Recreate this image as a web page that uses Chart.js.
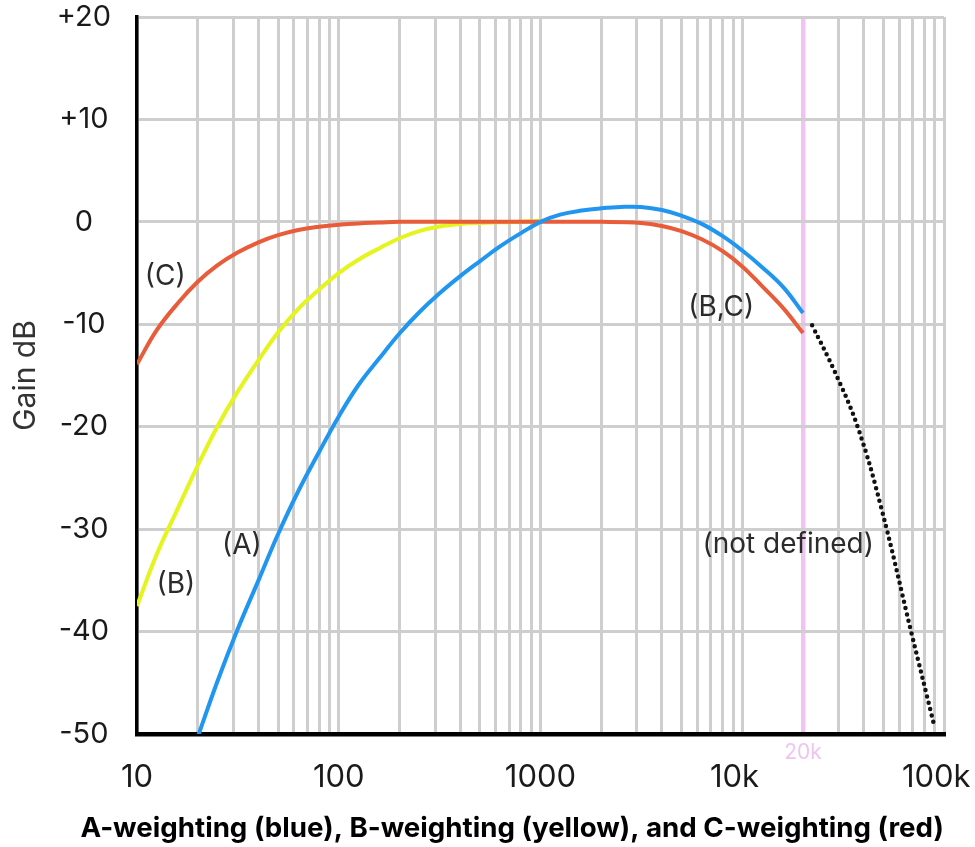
<!DOCTYPE html>
<html>
<head>
<meta charset="utf-8">
<script src="https://cdn.jsdelivr.net/npm/chart.js@4/dist/chart.umd.min.js"></script>
<style>
  html, body { margin: 0; padding: 0; background: #fff; }
  #chart { display: block; }
</style>
</head>
<body>
<canvas id="chart" width="975" height="847"></canvas>
<script>
// ===== DATA =====
// A-weighting (blue)
const aFreq = [20, 25, 31.5, 40, 50, 63, 80, 100, 125, 160, 200, 250, 315, 400, 500, 630, 800, 1000,
  1250, 1600, 2000, 2500, 3150, 4000, 5000, 6300, 8000, 10000, 12500, 16000, 20000];
const aGain = [-50.3, -44.9, -39.8, -35, -30.5, -26.3, -22.45, -19, -15.95, -13.25, -10.9, -8.85, -7, -5.3, -3.85, -2.4, -1.1, 0,
  0.7, 1.1, 1.32, 1.45, 1.45, 1.15, 0.6, -0.2, -1.4, -2.8, -4.4, -6.4, -8.9];

// B-weighting (yellow)
const bFreq = [10, 12.5, 16, 20, 25, 31.5, 40, 50, 63, 80, 100, 125, 160, 200, 250, 315, 400, 500, 630, 800, 1000];
const bGain = [-37.5, -32.5, -27.9, -23.8, -20, -16.6, -13.5, -10.8, -8.5, -6.6, -5, -3.7, -2.55, -1.6, -0.9, -0.45, -0.2, -0.1, -0.05, 0, 0.1];

// C-weighting (red)
const cFreq = [10, 12.5, 16, 20, 25, 31.5, 40, 50, 63, 80, 100, 125, 160, 200, 500, 1000, 2000, 3150, 4000, 5000,
  6300, 8000, 10000, 12500, 16000, 20000];
const cGain = [-13.9, -10.6, -7.9, -5.85, -4.25, -3.0, -2.0, -1.3, -0.8, -0.48, -0.28, -0.15, -0.07, 0, 0, 0, 0, -0.1, -0.4, -0.9,
  -1.7, -2.85, -4.35, -6.25, -8.45, -10.85];

// roll-off beyond 20k (dotted, "not defined")
const dFreq = [22200, 28700, 37300, 48700, 69100, 89500];
const dGain = [-10.1, -14.6, -20, -27.8, -40.2, -49.2];

const xTickValues = [10, 100, 1000, 10000, 100000];
const xTickLabels = ['10', '100', '1000', '10k\u2002', '100k\u2002'];
const yTickValues = [20, 10, 0, -10, -20, -30, -40, -50];
const yTickLabels = ['+20', '+10', '0', '-10', '-20', '-30', '-40', '-50'];

// curve labels, in data coordinates [freq, dB]
const notes = [
  { text: '(C)', at: [13.8, -5.3] },
  { text: '(B)', at: [15.6, -35.4] },
  { text: '(A)', at: [33.1, -31.6] },
  { text: '(B,C)', at: [7870, -8.4] },
  { text: '(not defined)', at: [16900, -31.5] },
];

// ===== HELPERS =====
const pts = (xs, ys) => xs.map((x, i) => ({ x, y: ys[i] }));

// gridlines 1..9 per decade
const xGrid = [];
xTickValues.slice(0, -1).forEach(d => { for (let m = 1; m < 10; m++) xGrid.push(d * m); });
xGrid.push(100000);

const GRID = '#cecece';
const PINK = '#f0c4f0';
const FONT = 'Inter, "Liberation Sans", Arial, sans-serif';
const TITLE_SIZE = 27.7;
const TITLE_BOX = TITLE_SIZE * 1.2 + 2; // line height + bottom padding

const notesPlugin = {
  id: 'notes',
  afterDatasetsDraw(chart) {
    const { ctx, scales: { x, y }, chartArea } = chart;
    ctx.save();
    ctx.textAlign = 'center';
    ctx.textBaseline = 'middle';
    ctx.fillStyle = '#2b2b2b';
    ctx.font = '28px ' + FONT;
    notes.forEach(n => {
      ctx.fillText(n.text, x.getPixelForValue(n.at[0]), y.getPixelForValue(n.at[1]));
    });
    // 20k marker label
    ctx.fillStyle = PINK;
    ctx.font = '21px ' + FONT;
    ctx.fillText('20k', x.getPixelForValue(20000), chartArea.bottom + 19);
    ctx.restore();
  }
};

const line = (data, color, extra) => Object.assign({
  data,
  borderColor: color,
  borderWidth: 4,
  pointRadius: 0,
  fill: false,
  tension: 0.4,
}, extra || {});

new Chart(document.getElementById('chart'), {
  type: 'line',
  data: {
    datasets: [
      line(pts(aFreq, aGain), '#2196f0'),
      line(pts(cFreq, cGain), '#e95c3a'),
      line(pts(bFreq, bGain), '#e4f41c'),
      line(pts(dFreq, dGain), '#111', { borderDash: [0, 6.5], borderCapStyle: 'round', borderWidth: 4.5 }),
    ]
  },
  options: {
    responsive: false,
    animation: false,
    devicePixelRatio: 1,
    layout: { padding: { top: 17, right: 31, left: 0, bottom: 0 } },
    plugins: {
      legend: { display: false },
      tooltip: { enabled: false },
      title: {
        display: true,
        position: 'bottom',
        align: 'end',
        text: 'A-weighting (blue), B-weighting (yellow), and C-weighting (red)',
        color: '#000',
        font: { family: FONT, size: TITLE_SIZE, weight: 'bold', lineHeight: 1.2 },
        padding: { top: 0, bottom: 2 }
      }
    },
    scales: {
      x: {
        type: 'logarithmic',
        min: 10,
        max: 100000,
        afterBuildTicks: s => { s.ticks = xGrid.map(v => ({ value: v })); },
        afterFit: s => { s.height = 847 - 734 - TITLE_BOX; s.paddingLeft = 0; s.paddingRight = 0; },
        grid: {
          drawTicks: false,
          color: c => (c.tick && c.tick.value === 20000 ? PINK : GRID),
          lineWidth: c => (c.tick && c.tick.value === 20000 ? 4.5 : 3),
        },
        border: { display: true, color: '#000', width: 4.5 },
        ticks: {
          autoSkip: false,
          maxRotation: 0,
          padding: 25,
          color: '#1a1a1a',
          font: { family: FONT, size: 31 },
          callback: v => {
            const i = xTickValues.indexOf(v);
            return i >= 0 ? xTickLabels[i] : '';
          }
        }
      },
      y: {
        min: -50,
        max: 20,
        afterBuildTicks: s => { s.ticks = yTickValues.map(v => ({ value: v })); },
        afterFit: s => { s.width = 137; s.paddingTop = 0; s.paddingBottom = 0; },
        grid: { drawTicks: false, color: GRID, lineWidth: 3 },
        border: { display: true, color: '#000', width: 3.5 },
        ticks: {
          crossAlign: 'center',
          padding: 26,
          color: '#1a1a1a',
          font: { family: FONT, size: 29 },
          callback: v => {
            const i = yTickValues.indexOf(v);
            return i >= 0 ? yTickLabels[i] : '';
          }
        },
        title: {
          display: true,
          text: 'Gain dB',
          color: '#333',
          font: { family: FONT, size: 30 },
          padding: { top: 8, bottom: 0 }
        }
      }
    }
  },
  plugins: [notesPlugin]
});
</script>
</body>
</html>
